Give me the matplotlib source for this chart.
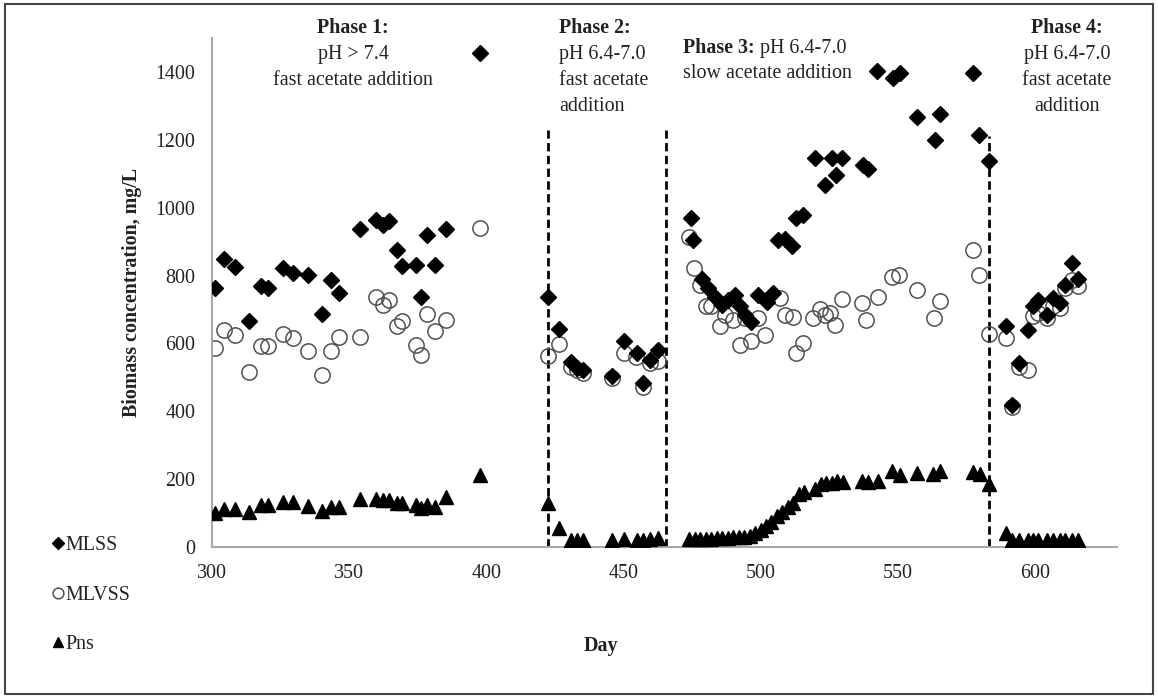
import matplotlib
matplotlib.use("Agg")
import matplotlib.pyplot as plt
from matplotlib.patches import Rectangle

plt.rcParams['font.family'] = ['Liberation Serif', 'DejaVu Serif']

# MLSS (diamonds)
mlss_day = [301, 304.3, 308.4, 313.6, 318, 320.3, 325.8, 329.4, 335.1, 340, 343.4, 346.2,
            354.1, 360, 362.3, 364.7, 367.4, 369.2, 374.5, 376.1, 378.5, 381.4, 385.4, 397.6,
            422.5, 426.4, 430.8, 433.2, 435.1, 446, 450.4, 454.8, 457, 459.6, 462.5,
            474.5, 475.4, 478.5, 480.9, 483.3, 485.8, 488.2, 490.6, 492.4, 494.3, 496.4, 499.1,
            502.2, 504.6, 506.5, 508.9, 511.3, 513.1, 515.6, 519.8, 523.5, 525.9, 527.4, 529.6,
            537.5, 539.3, 542.3, 548.4, 550.8, 557, 563.6, 565.5, 577.6, 579.6, 583.3,
            589.4, 591.6, 594.3, 597.4, 599.5, 601.3, 604.4, 606.8, 609, 611.1, 613.5, 615.7]
mlss = [763, 850, 824, 667, 770, 763, 821, 807, 801, 687, 788, 748,
        938, 965, 950, 960, 874, 827, 832, 738, 920, 832, 937, 1456,
        736, 642, 544, 527, 522, 504, 606, 571, 483, 552, 581,
        969, 904, 790, 763, 738, 714, 729, 743, 709, 684, 662, 743,
        721, 748, 906, 908, 888, 969, 979, 1146, 1068, 1146, 1097, 1146,
        1127, 1114, 1404, 1383, 1397, 1268, 1198, 1277, 1397, 1215, 1137,
        650, 419, 542, 640, 709, 729, 684, 734, 719, 773, 837, 790]

# MLVSS (open circles)
mlvss_day = [301, 304.3, 308.4, 313.6, 318, 320.3, 325.8, 329.4, 335.1, 340, 343.4, 346.2,
             354.1, 360, 362.3, 364.7, 367.4, 369.2, 374.5, 376.1, 378.5, 381.4, 385.4, 397.6,
             422.5, 426.4, 430.8, 433.2, 435.3, 446, 450.3, 454.7, 457.2, 459.6, 462.6,
             473.8, 475.7, 477.9, 480.3, 482.1, 485.1, 487, 490, 492.4, 494.3, 496.4, 499.1,
             501.6, 507.1, 508.9, 512, 513.1, 515.6, 519.2, 521.7, 523.5, 525.3, 527.2, 529.6,
             536.9, 538.3, 542.7, 547.8, 550.4, 557, 563.3, 565.5, 577.3, 579.7, 583.3,
             589.4, 591.6, 594.3, 597.6, 599.5, 601.3, 604.4, 606.8, 609, 611.1, 613.5, 615.7]
mlvss = [586, 640, 625, 517, 591, 591, 628, 617, 579, 507, 579, 620,
         620, 738, 714, 729, 650, 665, 596, 566, 687, 637, 670, 940,
         563, 599, 530, 522, 512, 498, 571, 561, 473, 542, 547,
         915, 822, 773, 709, 709, 650, 684, 670, 596, 675, 606, 675,
         625, 734, 684, 679, 571, 601, 675, 701, 684, 689, 655, 731,
         719, 668, 738, 796, 802, 758, 676, 724, 876, 802, 627,
         617, 412, 530, 522, 680, 689, 675, 709, 704, 764, 788, 768]

# Pns (triangles)
pns_day = [301, 304.3, 308.4, 313.6, 318, 320.3, 325.8, 329.4, 335.1, 340, 343.4, 346.2,
           354.1, 360, 362.3, 364.7, 367.4, 369.2, 374.5, 376.1, 378.5, 381.4, 385.4, 397.6,
           422.5, 426.4, 430.8, 433.2, 435.1, 446, 450.4, 454.8, 457, 459.6, 462.5,
           474, 476, 478, 480, 482, 484, 486, 488, 490, 492, 494, 496, 498, 500, 502, 504,
           506, 508, 510, 512, 514, 516, 520, 522, 524, 526, 528, 530, 537, 539, 543, 548,
           551, 557, 563, 565.5, 577.5, 580, 583.3,
           589.4, 591.6, 594.3, 597.4, 599.5, 601.3, 604.4, 606.8, 609, 611.1, 613.5, 615.7]
pns = [101, 111, 111, 104, 124, 124, 134, 134, 121, 107, 118, 118,
       141, 141, 139, 139, 131, 131, 124, 114, 124, 118, 147, 212,
       129, 55, 21, 21, 20, 21, 23, 22, 22, 24, 26,
       25, 25, 24, 24, 25, 26, 27, 28, 30, 30, 31, 33, 40, 50, 62, 75,
       90, 102, 118, 130, 155, 162, 170, 185, 190, 188, 195, 193, 195, 192, 195, 225,
       212, 218, 215, 225, 220, 215, 187,
       40, 22, 20, 20, 20, 20, 20, 20, 21, 21, 22, 22]

# phase boundaries
phase_day = [422.5, 465.7, 583.3]
phase_top = [1230, 1230, 1212]

FS = 14.4
TXT = '#222222'

fig = plt.figure(figsize=(11.58, 6.98), dpi=100)
ax = fig.add_axes([0.183, 0.2163, 0.7817, 0.7293])

ax.vlines(phase_day, 0, phase_top, colors='black', linestyles=(0, (3, 1.6)), linewidth=2, zorder=1)

ax.plot(mlvss_day, mlvss, linestyle='none', marker='o', markersize=11, markerfacecolor='none',
        markeredgecolor='#505050', markeredgewidth=1.1, label='MLVSS', zorder=2)
ax.plot(mlss_day, mlss, linestyle='none', marker='D', markersize=8.5, color='black',
        label='MLSS', zorder=3)
ax.plot(pns_day, pns, linestyle='none', marker='^', markersize=10.5, color='black',
        label='Pns', zorder=3)

ax.set_xlim(300, 630)
ax.set_ylim(0, 1500)
ax.set_xticks([300, 350, 400, 450, 500, 550, 600])
ax.set_yticks([0, 200, 400, 600, 800, 1000, 1200, 1400])
ax.tick_params(axis='both', length=0, labelsize=FS, colors=TXT)
ax.tick_params(axis='y', pad=12)
ax.tick_params(axis='x', pad=12)
for s in ['top', 'right']:
    ax.spines[s].set_visible(False)
for s in ['left', 'bottom']:
    ax.spines[s].set_color('#a8a8a8')
    ax.spines[s].set_linewidth(1.5)

ax.set_ylabel('Biomass concentration, mg/L', fontsize=FS, fontweight='bold', color=TXT)
ax.yaxis.set_label_coords(-0.077, 0.5)
ax.set_xlabel('Day', fontsize=FS, fontweight='bold', color=TXT)
ax.xaxis.set_label_coords(0.43, -0.175)

# phase annotations
kw = dict(fontsize=FS, color=TXT, clip_on=False, va='center')
ax.text(351.5, 1528, 'Phase 1:', ha='center', fontweight='bold', **kw)
ax.text(351.5, 1452, 'pH > 7.4', ha='center', **kw)
ax.text(351.5, 1374, 'fast acetate addition', ha='center', **kw)

ax.text(426.6, 1528, 'Phase 2:', ha='left', fontweight='bold', **kw)
ax.text(426.6, 1452, 'pH 6.4-7.0', ha='left', **kw)
ax.text(426.6, 1374, 'fast acetate', ha='left', **kw)
ax.text(426.6, 1297, 'addition', ha='left', **kw)

t3 = ax.text(471.9, 1470, 'Phase 3:', ha='left', fontweight='bold', **kw)
ax.annotate(' pH 6.4-7.0', xy=(1, 0.5), xycoords=t3, ha='left', va='center',
            fontsize=FS, color=TXT)
ax.text(471.9, 1394, 'slow acetate addition', ha='left', **kw)

ax.text(611.7, 1528, 'Phase 4:', ha='center', fontweight='bold', **kw)
ax.text(611.7, 1452, 'pH 6.4-7.0', ha='center', **kw)
ax.text(611.7, 1374, 'fast acetate', ha='center', **kw)
ax.text(611.7, 1297, 'addition', ha='center', **kw)

# legend outside at lower left
h, l = ax.get_legend_handles_labels()
order = [1, 0, 2]
leg = fig.legend([h[i] for i in order], [l[i] for i in order], loc='upper left',
                 bbox_to_anchor=(0.037, 1 - 526 / 698), frameon=False, fontsize=FS,
                 handlelength=0.5, handletextpad=0.15, labelspacing=1.53, borderpad=0,
                 markerscale=0.7)
for t in leg.get_texts():
    t.set_color(TXT)

# outer frame
fig.patches.append(Rectangle((0.004, 0.006), 0.992, 0.988, transform=fig.transFigure,
                             fill=False, edgecolor='#444444', linewidth=1.5))

fig.savefig('out.png', dpi=100)
